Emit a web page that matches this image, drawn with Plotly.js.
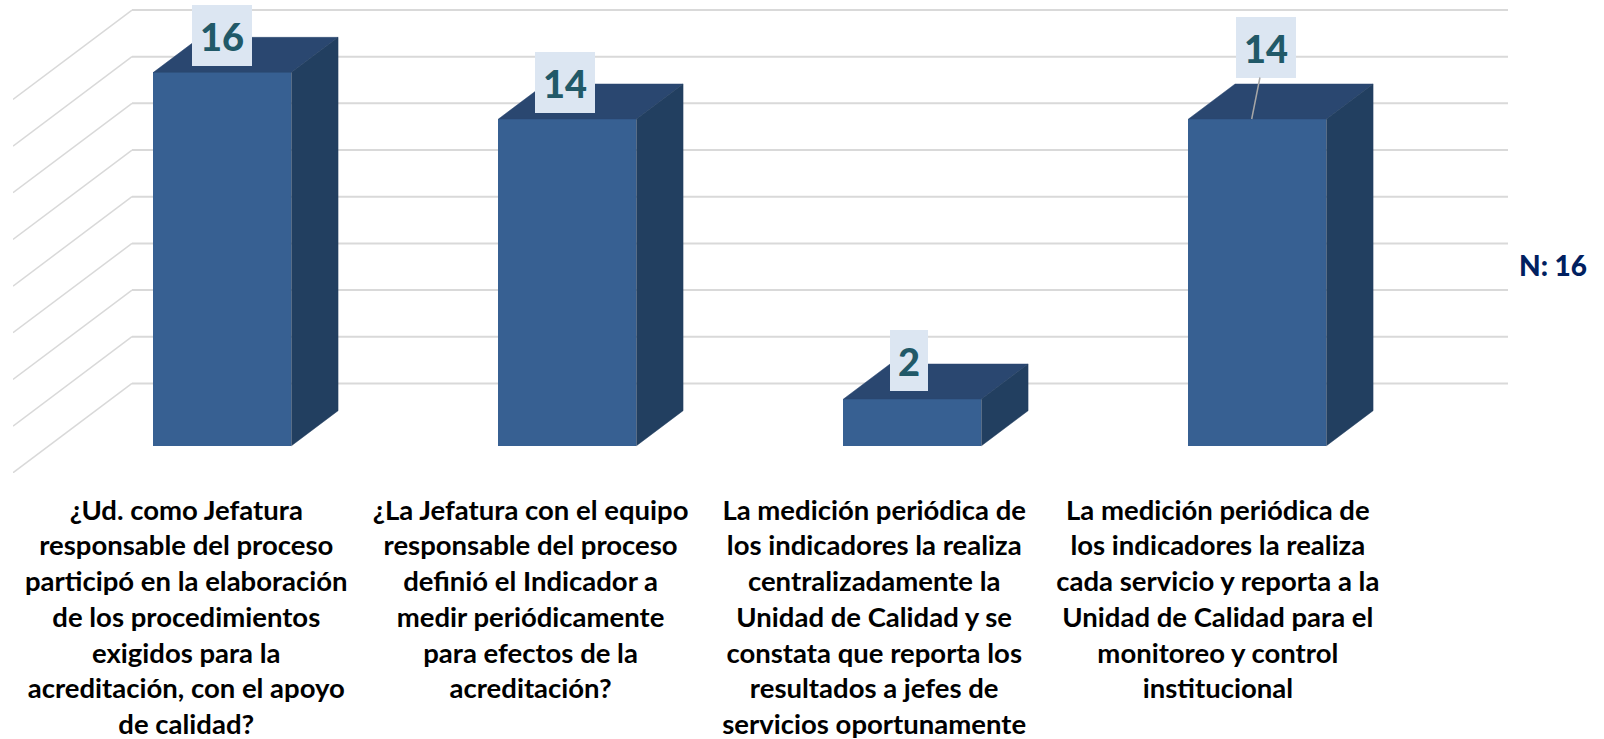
<!DOCTYPE html>
<html><head><meta charset="utf-8">
<script src="https://cdn.plot.ly/plotly-3.0.1.min.js"></script>
<style>html,body{margin:0;padding:0;background:#fff;overflow:hidden}</style>
</head><body><div id="chart" style="width:1604px;height:739px"></div>
<script>
const categories = [0, 1, 2, 3];
const tickLabels = [
 "¿Ud. como Jefatura<br>responsable del proceso<br>participó en la elaboración<br>de los procedimientos<br>exigidos para la<br>acreditación, con el apoyo<br>de calidad?",
 "¿La Jefatura con el equipo<br>responsable del proceso<br>definió el Indicador a<br>medir periódicamente<br>para efectos de la<br>acreditación?",
 "La medición periódica de<br>los indicadores la realiza<br>centralizadamente la<br>Unidad de Calidad y se<br>constata que reporta los<br>resultados a jefes de<br>servicios oportunamente",
 "La medición periódica de<br>los indicadores la realiza<br>cada servicio y reporta a la<br>Unidad de Calidad para el<br>monitoreo y control<br>institucional"
];
const values = [16, 14, 2, 14];
const gridValues = [0, 2, 4, 6, 8, 10, 12, 14, 16];

// projection constants of the fake 3D box (axis units)
const barW = 0.4, depthX = 0.135, depthY = 1.5;
const wallFrontX = -0.6072, wallBackX = -0.2623, wallRightX = 3.7261, wallDrop = 3.83, wallOffset = 2.67;
const labelShift = [0.105, 0.107, 0.111, 0.115];

const FRONT = '#376092', TOP = '#2A4770', SIDE = '#223F60', GRID = '#D9D9D9';
const FONT = 'Lato, Carlito, sans-serif';

const topX = [], topY = [], sideX = [], sideY = [];
categories.forEach((c, i) => {
  const l = c - barW / 2, r = c + barW / 2, v = values[i];
  topX.push(l, l + depthX, r + depthX, r, l, null);
  topY.push(v, v + depthY, v + depthY, v, v, null);
  sideX.push(r, r + depthX, r + depthX, r, r, null);
  sideY.push(v, v + depthY, depthY, 0, v, null);
});

const traces = [
  {type: 'bar', x: categories, y: values, width: barW, marker: {color: FRONT, line: {width: 0}}, hoverinfo: 'skip'},
  {type: 'scatter', mode: 'lines', x: topX, y: topY, fill: 'toself', fillcolor: TOP, line: {width: 0.5, color: TOP}, hoverinfo: 'skip'},
  {type: 'scatter', mode: 'lines', x: sideX, y: sideY, fill: 'toself', fillcolor: SIDE, line: {width: 0.5, color: SIDE}, hoverinfo: 'skip'}
];

const shapes = [];
gridValues.forEach(v => {
  shapes.push({type: 'line', layer: 'below', xref: 'x', yref: 'y', x0: wallBackX, x1: wallRightX, y0: v + wallOffset, y1: v + wallOffset, line: {color: GRID, width: 2}});
  shapes.push({type: 'line', layer: 'below', xref: 'x', yref: 'y', x0: wallFrontX, x1: wallBackX, y0: v + wallOffset - wallDrop, y1: v + wallOffset, line: {color: GRID, width: 1.5}});
});

const annotations = categories.map((c, i) => {
  const lead = i === 3;
  return {
    x: lead ? c - 0.0168 : c, y: values[i], xref: 'x', yref: 'y',
    text: String(values[i]),
    font: {family: FONT, size: 38, color: '#215968', weight: 900},
    bgcolor: '#DCE6F2', borderpad: 0, borderwidth: 0,
    width: values[i] < 10 ? 38 : 60, height: 61, valign: 'middle', align: 'center',
    showarrow: true, arrowhead: 0, arrowwidth: 1.5, arrowcolor: lead ? '#A6A6A6' : 'rgba(0,0,0,0)',
    ax: lead ? 14.3 : (i === 0 ? -0.5 : (i === 1 ? -2 : -3)),
    ay: lead ? -72 : (i === 2 ? -39 : -37)
  };
});
annotations.push({
  xref: 'paper', yref: 'paper', x: 1.006, y: 0.44, xanchor: 'left', yanchor: 'middle',
  text: 'N: 16', showarrow: false, font: {family: FONT, size: 28, color: '#002060', weight: 900}
});

const layout = {
  width: 1604, height: 739, showlegend: false,
  paper_bgcolor: '#fff', plot_bgcolor: 'rgba(0,0,0,0)',
  margin: {l: 13, r: 96, t: 0, b: 266.3, pad: 0},
  xaxis: {
    range: [wallFrontX, wallRightX], tickmode: 'array',
    tickvals: categories.map((c, i) => c - labelShift[i]), ticktext: tickLabels,
    tickangle: 0, showgrid: false, zeroline: false, showline: false, ticks: '',
    ticklabeloverflow: 'allow', ticklabelstandoff: 18,
    tickfont: {family: FONT, size: 27.5, color: '#000', weight: 700}, fixedrange: true
  },
  yaxis: {range: [-1.17, 19.1], showgrid: false, zeroline: false, showline: false, showticklabels: false, ticks: '', fixedrange: true},
  shapes, annotations, bargap: 0
};
Plotly.newPlot('chart', traces, layout, {displayModeBar: false, staticPlot: true, responsive: false});
</script></body></html>
